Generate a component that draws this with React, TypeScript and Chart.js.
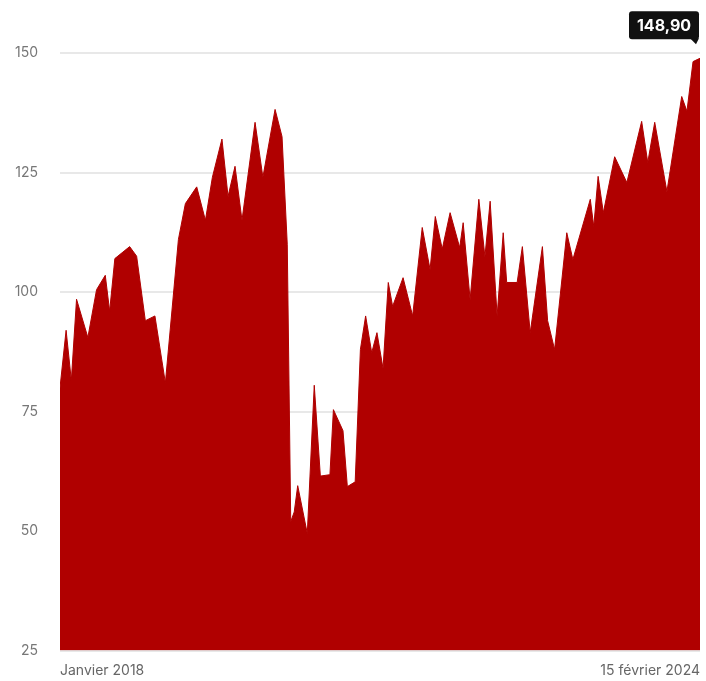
import React, { useEffect, useRef } from "react";
import { Chart, registerables } from "chart.js";

Chart.register(...registerables);

// months since January 2018
const months = [
  0, 0.7, 1.3, 1.9, 3.2, 4.2, 5.2, 5.7, 6.3, 8.0, 8.8, 9.8, 10.9, 12.1, 13.6, 14.4, 15.7, 16.7, 17.5, 18.6,
  19.3, 20.1, 20.9, 22.4, 23.3, 24.7, 25.5, 26.1, 26.5, 26.9, 27.3, 28.4, 29.2, 29.9, 31.0, 31.4, 32.5, 33.0,
  33.9, 34.5, 35.1, 35.8, 36.4, 37.1, 37.7, 38.2, 39.4, 40.5, 41.6, 42.5, 43.1, 43.9, 44.8, 45.9, 46.3, 47.1,
  48.1, 48.8, 49.4, 50.2, 50.9, 51.3, 52.5, 53.1, 54.0, 55.4, 56.0, 56.8, 58.2, 58.9, 60.9, 61.3, 61.8, 62.4,
  63.7, 65.1, 66.8, 67.5, 68.3, 69.7, 71.4, 72.0, 72.7, 73.5,
];
const prices = [
  80, 92, 81.5, 98.5, 90.5, 100.5, 103.5, 96, 107, 109.5, 107.5, 94, 95, 81, 111, 118.5, 122, 115, 124, 132,
  120, 126.3, 115, 135.5, 124, 138.2, 132.5, 110, 52, 54, 59.5, 49.5, 80.5, 61.5, 61.8, 75.4, 71, 59.3,
  60.3, 88, 95, 87.3, 91.5, 84, 102, 97, 103, 95, 113.5, 104.7, 115.8, 109, 116.6, 109.3, 114.5, 98.4,
  119.4, 107.4, 119, 95, 112.4, 102, 102, 109.5, 91.5, 109.5, 94, 88, 112.4, 106.8, 119.4, 113.7, 124.2, 116.6,
  128.3, 122.9, 135.7, 127.1, 135.5, 121, 140.9, 137.8, 148.2, 148.9,
];
const xTickLabels = ["Janvier 2018", "15 février 2024"];
const yTicks = [25, 50, 75, 100, 125, 150];
const lastLabel = "148,90";

export default function App() {
  const ref = useRef<HTMLCanvasElement | null>(null);

  useEffect(() => {
    document.body.style.margin = "0";
    const canvas = ref.current;
    if (!canvas) return;

    const labelPlugin = {
      id: "lastLabel",
      afterDraw(chart: any) {
        const meta = chart.getDatasetMeta(0);
        const pt = meta.data[meta.data.length - 1];
        if (!pt) return;
        const ctx = chart.ctx;
        const tipX = pt.x - 4;
        const tipY = pt.y - 14;
        const w = 70;
        const h = 28;
        const right = pt.x - 1;
        const left = right - w;
        const bottom = tipY - 5;
        const top = bottom - h;
        ctx.save();
        ctx.fillStyle = "#111111";
        ctx.beginPath();
        const r = 3;
        ctx.moveTo(left + r, top);
        ctx.lineTo(right - r, top);
        ctx.quadraticCurveTo(right, top, right, top + r);
        ctx.lineTo(right, bottom - r);
        ctx.quadraticCurveTo(right, bottom, right - r, bottom);
        ctx.lineTo(left + r, bottom);
        ctx.quadraticCurveTo(left, bottom, left, bottom - r);
        ctx.lineTo(left, top + r);
        ctx.quadraticCurveTo(left, top, left + r, top);
        ctx.closePath();
        ctx.fill();
        ctx.beginPath();
        ctx.moveTo(tipX - 6, bottom - 1);
        ctx.lineTo(tipX + 3, bottom - 1);
        ctx.lineTo(tipX, tipY);
        ctx.closePath();
        ctx.fill();
        ctx.fillStyle = "#ffffff";
        ctx.font = "bold 16px Inter, 'DejaVu Sans', sans-serif";
        ctx.textAlign = "center";
        ctx.textBaseline = "middle";
        ctx.fillText(lastLabel, (left + right) / 2, (top + bottom) / 2 + 1);
        ctx.restore();
      },
    };

    const chart = new Chart(canvas, {
      type: "line",
      data: {
        datasets: [
          {
            data: months.map((m, i) => ({ x: m, y: prices[i] })),
            backgroundColor: "#b00000",
            borderColor: "#b00000",
            borderWidth: 1,
            fill: "start",
            pointRadius: 0,
            tension: 0,
          },
        ],
      },
      options: {
        animation: false,
        responsive: false,
        maintainAspectRatio: false,
        layout: { padding: { top: 53, right: 6, left: 0, bottom: 0 } },
        plugins: { legend: { display: false }, tooltip: { enabled: false } },
        scales: {
          x: {
            type: "linear",
            min: 0,
            max: 73.5,
            grid: { display: false },
            border: { display: false },
            afterBuildTicks(scale: any) {
              scale.ticks = [{ value: 0 }, { value: 73.5 }];
            },
            afterFit(scale: any) {
              scale.height = 30;
            },
            ticks: {
              align: "inner",
              maxRotation: 0,
              autoSkip: false,
              padding: 4,
              color: "#666666",
              font: { family: "Inter, 'Open Sans', sans-serif", size: 14 },
              callback: (v: any) => (Number(v) === 0 ? xTickLabels[0] : xTickLabels[1]),
            },
          },
          y: {
            min: 25,
            max: 150,
            grid: { color: "#e8e8e8", lineWidth: 2, drawTicks: false },
            border: { display: false },
            afterBuildTicks(scale: any) {
              scale.ticks = yTicks.map((v) => ({ value: v }));
            },
            afterFit(scale: any) {
              scale.width = 60;
            },
            ticks: {
              padding: 22,
              color: "#777777",
              font: { family: "Inter, 'Open Sans', sans-serif", size: 14 },
            },
          },
        },
      },
      plugins: [labelPlugin],
    });
    return () => chart.destroy();
  }, []);

  return (
    <div style={{ width: 706, height: 681, background: "#ffffff" }}>
      <canvas ref={ref} width={706} height={681} style={{ width: 706, height: 681, display: "block" }} />
    </div>
  );
}
